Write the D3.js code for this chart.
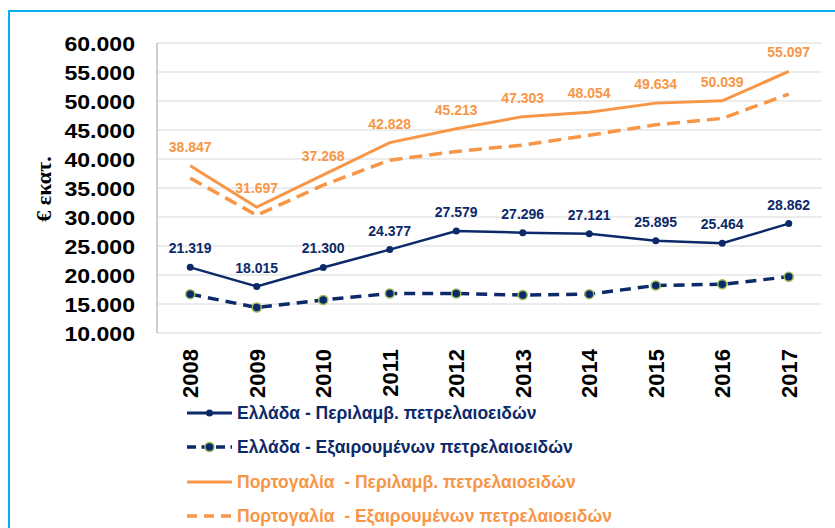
<!DOCTYPE html>
<html>
<head>
<meta charset="utf-8">
<script src="https://cdn.jsdelivr.net/npm/d3@7"></script>
<style>
  body { margin: 0; background: #fff; }
  svg { display: block; font-family: "Liberation Sans", Arial, sans-serif; }
</style>
</head>
<body>
<script>
// data (€ εκατ.)
var years = ["2008", "2009", "2010", "2011", "2012", "2013", "2014", "2015", "2016", "2017"];
var grIncl = [21319, 18015, 21300, 24377, 27579, 27296, 27121, 25895, 25464, 28862];
var grExcl = [16700, 14400, 15700, 16800, 16800, 16550, 16700, 18200, 18400, 19700];
var ptIncl = [38847, 31697, 37268, 42828, 45213, 47303, 48054, 49634, 50039, 55097];
var ptExcl = [36700, 30300, 35500, 39800, 41300, 42400, 44100, 45900, 47000, 51200];
var yTicks = [10000, 15000, 20000, 25000, 30000, 35000, 40000, 45000, 50000, 55000, 60000];
var seriesNames = [
  "Ελλάδα - Περιλαμβ. πετρελαιοειδών",
  "Ελλάδα - Εξαιρουμένων πετρελαιοειδών",
  "Πορτογαλία  - Περιλαμβ. πετρελαιοειδών",
  "Πορτογαλία  - Εξαιρουμένων πετρελαιοειδών"
];

var width = 835, height = 528;
var navy = "#0c2a6a", orange = "#f79646", green = "#9bbb59";

var fmt = function(v) { return d3.format(",")(v).replace(/,/g, "."); };
var fmtTick = function(v) { return d3.format(",.0f")(v).replace(/,/g, "."); };

var svg = d3.select("body").append("svg")
    .attr("width", width)
    .attr("height", height);

// outer frame
svg.append("rect")
    .attr("x", 9).attr("y", 11)
    .attr("width", 900).attr("height", 600)
    .attr("fill", "none")
    .attr("stroke", "#00b0f0")
    .attr("stroke-width", 2);

var x = d3.scaleBand().domain(years).range([157, 822]);
var y = d3.scaleLinear().domain([10000, 60000]).range([333, 43]);
var cx = function(d, i) { return x(years[i]) + x.bandwidth() / 2; };

// gridlines
svg.append("g").selectAll("line")
    .data(yTicks)
    .join("line")
    .attr("x1", 157).attr("x2", 822)
    .attr("y1", d => y(d)).attr("y2", d => y(d))
    .attr("stroke", "#d9d9d9")
    .attr("stroke-width", 1);

// axis line on the left
svg.append("line")
    .attr("x1", 157).attr("x2", 157)
    .attr("y1", y(60000)).attr("y2", y(10000))
    .attr("stroke", "#bfbfbf").attr("stroke-width", 1.5);

// y axis
var yAxis = svg.append("g")
    .attr("transform", "translate(135,0)")
    .call(d3.axisLeft(y).tickValues(yTicks).tickFormat(fmtTick).tickSize(0).tickPadding(0));
yAxis.select(".domain").remove();
yAxis.selectAll("text")
    .attr("font-family", "'Liberation Sans', Arial, sans-serif")
    .attr("font-size", 21)
    .attr("font-weight", "bold")
    .attr("fill", "#000")
    .attr("dy", "0.36em")
    .attr("transform", "scale(1.1,1)");

// y title
svg.append("text")
    .attr("transform", "translate(51,189) rotate(-90)")
    .attr("text-anchor", "middle")
    .style("font-family", "'Liberation Serif', 'DejaVu Serif', serif")
    .attr("font-size", 22)
    .attr("font-weight", "bold")
    .text("€ εκατ.");

// x axis labels (rotated)
var xAxis = svg.append("g")
    .attr("transform", "translate(0,349)")
    .call(d3.axisBottom(x).tickSize(0).tickPadding(0));
xAxis.select(".domain").remove();
xAxis.selectAll("text")
    .attr("font-family", "'Liberation Sans', Arial, sans-serif")
    .attr("font-size", 22)
    .attr("font-weight", "bold")
    .attr("fill", "#000")
    .attr("text-anchor", "end")
    .attr("transform", "rotate(-90)")
    .attr("x", 0)
    .attr("y", 0)
    .attr("dy", "0.36em");

var line = d3.line().x(cx).y(d => y(d));

// Portugal excl.
svg.append("path").datum(ptExcl)
    .attr("d", line).attr("fill", "none")
    .attr("stroke", orange).attr("stroke-width", 3.5)
    .attr("stroke-dasharray", "13,7");

// Portugal incl.
svg.append("path").datum(ptIncl)
    .attr("d", line).attr("fill", "none")
    .attr("stroke", orange).attr("stroke-width", 3);

// Greece excl.
svg.append("path").datum(grExcl)
    .attr("d", line).attr("fill", "none")
    .attr("stroke", navy).attr("stroke-width", 3.5)
    .attr("stroke-dasharray", "11,7");
svg.append("g").selectAll("circle")
    .data(grExcl)
    .join("circle")
    .attr("cx", cx).attr("cy", d => y(d)).attr("r", 4.5)
    .attr("fill", navy).attr("stroke", green).attr("stroke-width", 1.5);

// Greece incl.
svg.append("path").datum(grIncl)
    .attr("d", line).attr("fill", "none")
    .attr("stroke", navy).attr("stroke-width", 2.5);
svg.append("g").selectAll("circle")
    .data(grIncl)
    .join("circle")
    .attr("cx", cx).attr("cy", d => y(d)).attr("r", 3.5)
    .attr("fill", navy);

// data labels
function labels(data, color) {
  svg.append("g").selectAll("text")
      .data(data)
      .join("text")
      .attr("x", cx)
      .attr("y", d => y(d) - 14)
      .attr("text-anchor", "middle")
      .attr("font-size", 14)
      .attr("font-weight", "bold")
      .attr("fill", color)
      .text(fmt);
}
labels(ptIncl, orange);
labels(grIncl, navy);

// legend
var legendColors = [navy, navy, orange, orange];
var legend = svg.append("g").selectAll("g")
    .data(seriesNames)
    .join("g")
    .attr("transform", (d, i) => "translate(187," + [413, 447, 482, 516][i] + ")");

legend.append("line")
    .attr("x1", 0).attr("x2", 45).attr("y1", 0).attr("y2", 0)
    .attr("stroke", (d, i) => legendColors[i])
    .attr("stroke-width", (d, i) => i % 2 ? 3.5 : 3)
    .attr("stroke-dasharray", (d, i) => i === 1 ? "9,5.5" : i === 3 ? "10,7" : null);

legend.filter((d, i) => i === 0).append("circle")
    .attr("cx", 22.5).attr("cy", 0).attr("r", 3.5).attr("fill", navy);
legend.filter((d, i) => i === 1).append("circle")
    .attr("cx", 22.5).attr("cy", 0).attr("r", 4.5)
    .attr("fill", navy).attr("stroke", green).attr("stroke-width", 1.5);

legend.append("text")
    .attr("x", 50)
    .attr("dy", "0.36em")
    .attr("font-size", 17.5)
    .attr("font-weight", "bold")
    .attr("fill", (d, i) => legendColors[i])
    .style("white-space", "pre")
    .text(d => d);
</script>
</body>
</html>
